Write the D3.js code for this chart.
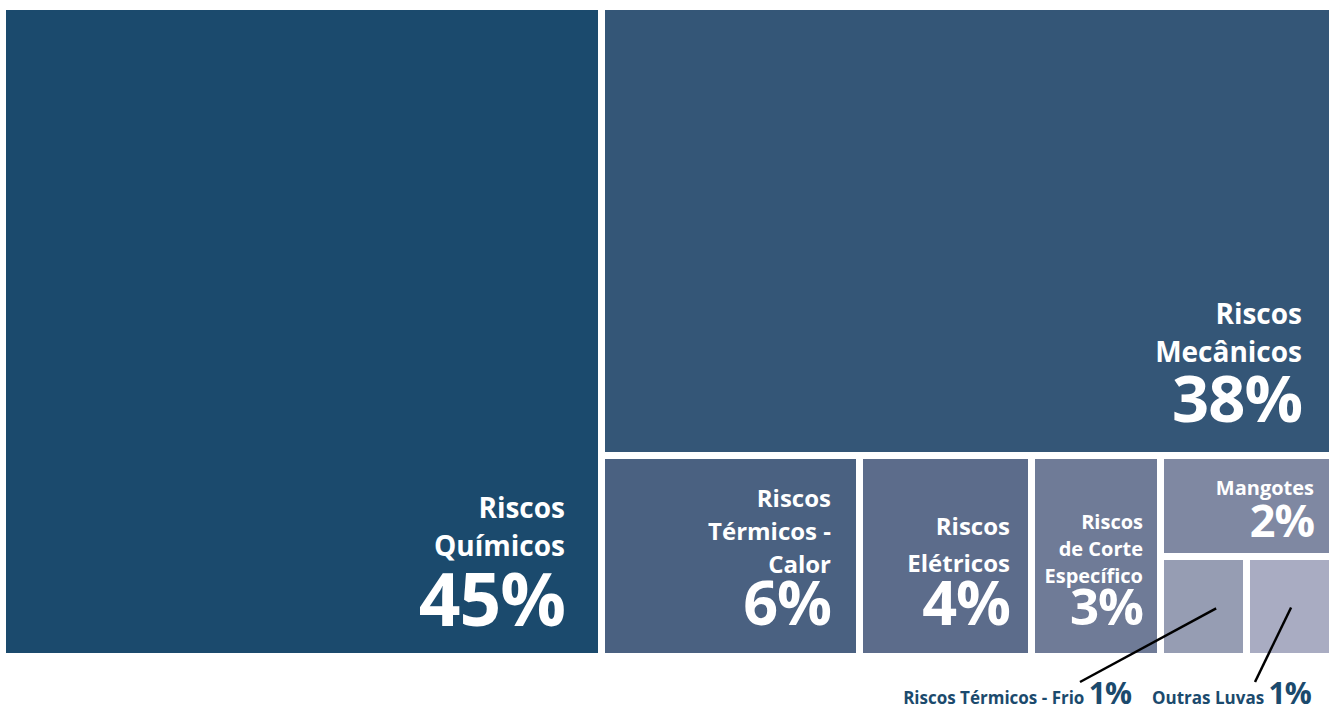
<!DOCTYPE html>
<html><head><meta charset="utf-8">
<script src="https://cdn.jsdelivr.net/npm/d3@7"></script>
<style>
html,body{margin:0;padding:0;background:#fff;}
text{font-family:"Open Sans","Noto Sans",sans-serif;font-weight:700;}
</style></head>
<body><svg id="chart" width="1335" height="708"></svg>
<script>
// ---- data ----
const categories = ["Riscos Químicos","Riscos Mecânicos","Riscos Térmicos - Calor","Riscos Elétricos","Riscos de Corte Específico","Mangotes","Riscos Térmicos - Frio","Outras Luvas"];
const values = [45,38,6,4,3,2,1,1];
const labelLines = [["Riscos","Químicos"],["Riscos","Mecânicos"],["Riscos","Térmicos -","Calor"],["Riscos","Elétricos"],["Riscos","de Corte","Específico"],["Mangotes"],["Riscos Térmicos - Frio"],["Outras Luvas"]];
const colors = ["#1b4a6d","#345677","#4a6181","#5c6c8b","#6f7b97","#7f88a2","#969db3","#a9acc2"];

// nested grouping used for slice/dice layout
const leaf = i => ({name:categories[i], idx:i, value:values[i]});
const tree = {name:"root", children:[
  leaf(0),
  {name:"rest", children:[
    leaf(1),
    {name:"bottom", children:[
      leaf(2), leaf(3), leaf(4),
      {name:"small", children:[
        leaf(5),
        {name:"tiny", children:[leaf(6), leaf(7)]}
      ]}
    ]}
  ]}
]};

const svg = d3.select("#chart");
const OX = 6, OY = 10;
const root = d3.hierarchy(tree).sum(d => d.value || 0);
d3.treemap().tile(d3.treemapSliceDice).size([1323, 643]).paddingInner(7).round(true)(root);
const g = svg.append("g").attr("transform",`translate(${OX},${OY})`);
const leaves = root.leaves();

g.selectAll("rect").data(leaves).join("rect")
  .attr("x", d => d.x0).attr("y", d => d.y0)
  .attr("width", d => d.x1 - d.x0).attr("height", d => d.y1 - d.y0)
  .attr("fill", d => colors[d.data.idx]);

// label styles per category: [labelSize, lineHeight, numSize, rightPad, bottomPad, gapAboveNum]
const styles = {
  0:[28,38,73,33,27,70],
  1:[28,38,65,27,30,60],
  2:[24,33,61,25,28,52],
  3:[24,37,61,18,28,53],
  4:[20,27,51,14,28,42],
  5:[20,0,45,15,16,42]
};
leaves.forEach(d => {
  const i = d.data.idx;
  const s = styles[i];
  if (!s) return;
  const [ls, lh, ns, rp, bp, gap] = s;
  const x = d.x1 - rp;
  const numBase = d.y1 - bp;
  const t = g.append("g").attr("fill","#fff").attr("text-anchor","end");
  t.append("text").attr("x", x).attr("y", numBase).attr("font-size", ns)
    .attr("letter-spacing", -1).text(values[i] + "%");
  const lines = labelLines[i];
  lines.forEach((ln, k) => {
    const y = numBase - gap - (lines.length - 1 - k) * lh;
    t.append("text").attr("x", x).attr("y", y).attr("font-size", ls).text(ln);
  });
});

// callouts for tiny cells
const callouts = [
  {idx:6, ax:0.66, ay:0.52, ex:1080, ey:682},
  {idx:7, ax:0.52, ay:0.51, ex:1255, ey:682}
];
callouts.forEach(c => {
  const d = leaves.find(n => n.data.idx === c.idx);
  const sx = OX + d.x0 + (d.x1 - d.x0) * c.ax;
  const sy = OY + d.y0 + (d.y1 - d.y0) * c.ay;
  svg.append("line").attr("x1", sx).attr("y1", sy).attr("x2", c.ex).attr("y2", c.ey)
    .attr("stroke","#000").attr("stroke-width",2.5);
});
{
  const t = svg.append("text").attr("fill","#1b4a6d").attr("x",1131).attr("y",704).attr("text-anchor","end");
  t.append("tspan").attr("font-size",17).text(labelLines[6][0] + " ");
  t.append("tspan").attr("font-size",30).attr("letter-spacing",-1).text(values[6] + "%");
  const t2 = svg.append("text").attr("fill","#1b4a6d").attr("x",1152).attr("y",704).attr("text-anchor","start");
  t2.append("tspan").attr("font-size",17).text(labelLines[7][0] + " ");
  t2.append("tspan").attr("font-size",30).attr("letter-spacing",-1).text(values[7] + "%");
}
</script></body></html>
